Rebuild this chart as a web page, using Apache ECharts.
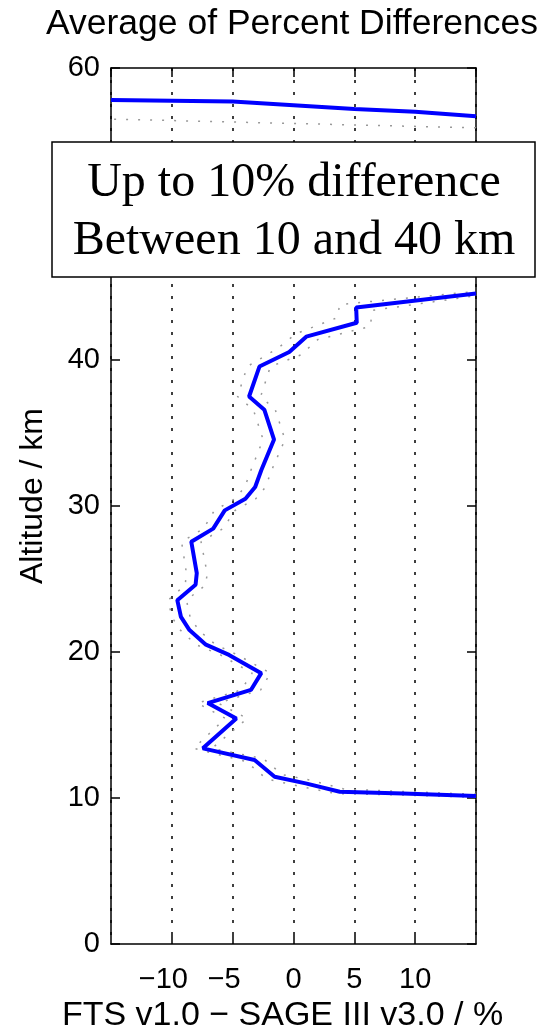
<!DOCTYPE html>
<html>
<head>
<meta charset="utf-8">
<script src="https://cdn.jsdelivr.net/npm/echarts@6/dist/echarts.min.js"></script>
<style>
  html, body { margin: 0; padding: 0; background: #fff; }
  #main { width: 545px; height: 1028px; }
</style>
</head>
<body>
<div id="main"></div>
<script>
// mean profile: percent difference (x) vs altitude (y), null = gap in the line
const meanDiff = [15.0, 9.0, 3.8, 1.0, -1.55, -3.2, -7.45, -4.7, -7.05, -3.5, -2.65, -5.3, -7.2, -8.55, -9.25, -9.55, -8.05, -7.95, -8.4, -6.6, -5.65, -3.95, -3.15, -2.65, -1.6, -2.4, -3.65, -2.8, -0.35, 1.05, 5.2, 5.15, 15.0,
  null, 15.0, 10.0, 5.0, 0.0, -5.0, -10.0, -15.0];
const meanAlt = [10.14, 10.3, 10.43, 11.0, 11.45, 12.6, 13.4, 15.45, 16.5, 17.4, 18.55, 19.8, 20.5, 21.5, 22.4, 23.55, 24.6, 25.4, 27.55, 28.45, 29.7, 30.5, 31.3, 32.45, 34.55, 36.6, 37.5, 39.55, 40.55, 41.6, 42.55, 43.6, 44.55,
  null, 56.7, 57.0, 57.2, 57.45, 57.7, 57.75, 57.8];

// lower / upper bounds (grey dotted)
const lowDiff = [15.0, 9.0, 3.5, 0.5, -2.2, -3.9, -8.2, -5.6, -7.9, -4.3, -3.4, -6.0, -8.0, -9.3, -10.0, -10.3, -8.9, -8.8, -9.2, -7.4, -6.5, -4.8, -4.0, -3.5, -2.5, -3.3, -4.6, -3.8, -1.3, 0.2, 3.6, 3.8, 15.0,
  null, 15.0, 0.0, -15.0];
const lowAlt = [10.05, 10.2, 10.3, 10.8, 11.3, 12.5, 13.4, 15.45, 16.5, 17.4, 18.55, 19.8, 20.5, 21.5, 22.4, 23.55, 24.6, 25.4, 27.55, 28.45, 29.7, 30.5, 31.3, 32.45, 34.55, 36.6, 37.5, 39.55, 40.8, 41.8, 42.9, 43.8, 44.7,
  null, 55.9, 56.2, 56.5];
const highDiff = [15.0, 9.0, 4.2, 1.5, -0.9, -2.5, -6.7, -3.8, -6.2, -2.7, -1.9, -4.6, -6.4, -7.8, -8.5, -8.8, -7.2, -7.1, -7.6, -5.8, -4.8, -3.1, -2.3, -1.8, -0.7, -1.5, -2.7, -1.9, 0.6, 2.0, 6.3, 6.5, 15.0];
const highAlt = [10.25, 10.45, 10.6, 11.2, 11.6, 12.7, 13.4, 15.45, 16.5, 17.4, 18.55, 19.8, 20.5, 21.5, 22.4, 23.55, 24.6, 25.4, 27.55, 28.45, 29.7, 30.5, 31.3, 32.45, 34.55, 36.6, 37.5, 39.55, 40.35, 41.4, 42.3, 43.4, 44.4];

const xTicks = [-15, 15, 5];   // min, max, interval
const yTicks = [0, 60, 10];

function pairs(xs, ys) {
  return xs.map(function (x, i) {
    return x === null ? '-' : [x, ys[i]];
  });
}

const labelFont = 'Liberation Sans, Arial, sans-serif';
const frame = { show: true, onZero: false, lineStyle: { color: '#000', width: 1.5 } };
const innerTick = { show: true, inside: true, length: 9, lineStyle: { color: '#000', width: 1.5 } };

const chart = echarts.init(document.getElementById('main'));
chart.setOption({
  animation: false,
  title: {
    text: 'Average of Percent Differences',
    left: 46,
    top: 6,
    padding: 0,
    textStyle: { fontFamily: labelFont, fontSize: 35.5, fontWeight: 'normal', color: '#000' }
  },
  grid: { left: 111, right: 69, top: 68, bottom: 84, outerBoundsMode: 'none' },
  xAxis: [{
    type: 'value',
    min: xTicks[0], max: xTicks[1], interval: xTicks[2],
    position: 'bottom',
    name: 'FTS v1.0 \u2212 SAGE III v3.0 / %',
    nameLocation: 'middle',
    nameGap: 54,
    nameTextStyle: { fontFamily: labelFont, fontSize: 34, color: '#000', padding: [0, 22, 0, 0] },
    axisLine: frame,
    axisTick: innerTick,
    axisLabel: {
      showMinLabel: false, showMaxLabel: false,
      margin: 21,
      fontFamily: labelFont, fontSize: 29, color: '#000',
      // minus sign hangs to the left of the number, like the original
      formatter: function (v) { return v < 0 ? '\u2212' + Math.abs(v) + '{h|\u2212}' : String(v); },
      rich: { h: { fontFamily: labelFont, fontSize: 29, color: 'rgba(0,0,0,0)' } }
    },
    splitLine: { show: true, lineStyle: { color: '#000', width: 1.5, type: [3, 9] } }
  }, {
    // top edge of the box
    type: 'value',
    min: xTicks[0], max: xTicks[1], interval: xTicks[2],
    position: 'top',
    axisLine: frame,
    axisTick: innerTick,
    axisLabel: { show: false },
    splitLine: { show: false }
  }],
  yAxis: [{
    type: 'value',
    min: yTicks[0], max: yTicks[1], interval: yTicks[2],
    position: 'left',
    name: 'Altitude / km',
    nameLocation: 'middle',
    nameGap: 62,
    nameTextStyle: { fontFamily: labelFont, fontSize: 32, color: '#000', padding: [0, 0, 0, 20] },
    axisLine: frame,
    axisTick: innerTick,
    axisLabel: { margin: 11, fontFamily: labelFont, fontSize: 29, color: '#000' },
    splitLine: { show: false }
  }, {
    // right edge of the box
    type: 'value',
    min: yTicks[0], max: yTicks[1], interval: yTicks[2],
    position: 'right',
    axisLine: frame,
    axisTick: innerTick,
    axisLabel: { show: false },
    splitLine: { show: false }
  }],
  series: [{
    type: 'line',
    data: pairs(lowDiff, lowAlt),
    symbol: 'none',
    lineStyle: { color: '#999', width: 1.5, type: [2, 10] },
    z: 2
  }, {
    type: 'line',
    data: pairs(highDiff, highAlt),
    symbol: 'none',
    lineStyle: { color: '#999', width: 1.5, type: [2, 10] },
    z: 2
  }, {
    type: 'line',
    data: pairs(meanDiff, meanAlt),
    symbol: 'none',
    lineStyle: { color: '#0000ff', width: 4 },
    z: 3
  }],
  graphic: [{
    type: 'rect',
    shape: { x: 52, y: 142, width: 483, height: 135 },
    style: { fill: '#fff', stroke: '#000', lineWidth: 1.5 },
    z: 100
  }, {
    type: 'text',
    x: 294, y: 183,
    style: {
      text: 'Up to 10% difference',
      font: '48px "Liberation Serif", "Times New Roman", serif',
      fill: '#000', textAlign: 'center', textVerticalAlign: 'middle'
    },
    z: 101
  }, {
    type: 'text',
    x: 294, y: 241,
    style: {
      text: 'Between 10 and 40 km',
      font: '48px "Liberation Serif", "Times New Roman", serif',
      fill: '#000', textAlign: 'center', textVerticalAlign: 'middle'
    },
    z: 101
  }]
});
</script>
</body>
</html>
